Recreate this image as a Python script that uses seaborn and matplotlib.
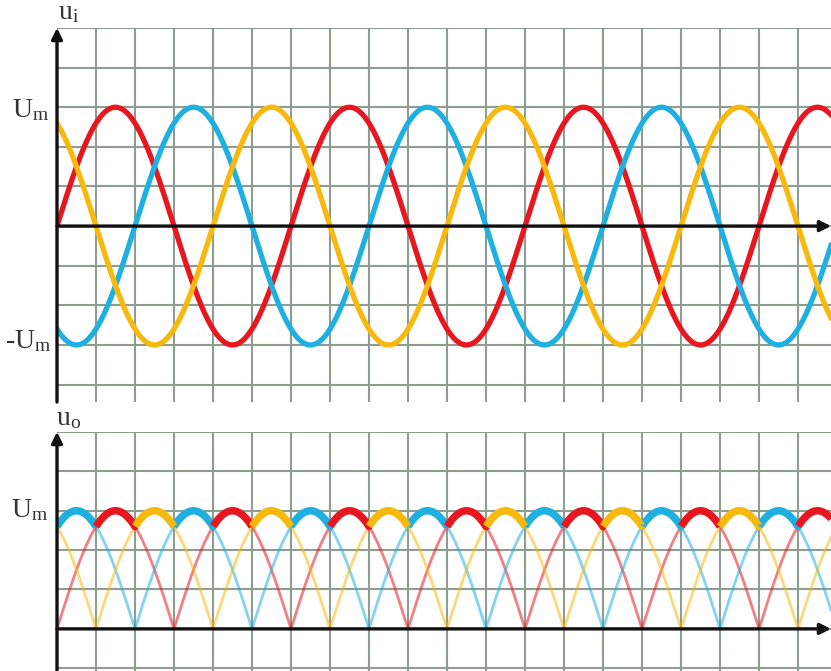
import numpy as np
import pandas as pd
import matplotlib
matplotlib.use("Agg")
import matplotlib.pyplot as plt
import seaborn as sns

# Three-phase supply: phase names, phase lag (degrees) and colours
phases = ["a", "b", "c"]
phase_lag_deg = [0, 120, 240]
phase_colors = ["#e8161f", "#1fb0e2", "#f8b80c"]

# Wave parameters in grid units
amplitude = 3.0      # U_m
period = 6.0         # one cycle spans six grid squares

# Axis labels
top_y_label = r"$\mathrm{u_i}$"
bottom_y_label = r"$\mathrm{u_o}$"
um_label = r"$\mathrm{U_m}$"
neg_um_label = r"$\mathrm{\text{-}U_m}$"

sns.set_theme(style="white")
plt.rcParams["font.family"] = ["Liberation Serif", "DejaVu Serif"]
plt.rcParams["mathtext.fontset"] = "custom"
plt.rcParams["mathtext.rm"] = "Liberation Serif"
plt.rcParams["mathtext.it"] = "Liberation Serif:italic"

W, H = 831, 671
fig = plt.figure(figsize=(W / 100, H / 100), dpi=100)


def box(x0, y0, x1, y1):
    return [x0 / W, 1 - y1 / H, (x1 - x0) / W, (y1 - y0) / H]


x_max = (W - 57) / 39.0
ax_top = fig.add_axes(box(57, 28, 831, 402))
ax_bot = fig.add_axes(box(57, 432, 831, 671))
ax_top.set_xlim(0, x_max)
ax_top.set_ylim(-4.44, 5.0)
ax_bot.set_xlim(0, x_max)
ax_bot.set_ylim(-1.07, 5.0)

grid_color = "#8d9d90"
for ax in (ax_top, ax_bot):
    ax.set_xticks(np.arange(0, 20))
    lo, hi = ax.get_ylim()
    ax.set_yticks(np.arange(np.ceil(lo), np.floor(hi) + 1))
    ax.grid(True, color=grid_color, lw=1.5)
    ax.set_axisbelow(True)
    ax.tick_params(length=0, labelleft=False, labelbottom=False)
    for s in ax.spines.values():
        s.set_visible(False)

# Sampled phase voltages
t = np.round(np.arange(0, x_max + 0.005, 0.005), 4)
rows = []
for name, lag in zip(phases, phase_lag_deg):
    v = amplitude * np.sin(2 * np.pi * t / period - np.deg2rad(lag))
    rows.append(pd.DataFrame({"t": t, "v": v, "abs_v": np.abs(v), "phase": name}))
waves = pd.concat(rows, ignore_index=True)
palette = dict(zip(phases, phase_colors))

# Input voltages
sns.lineplot(data=waves, x="t", y="v", hue="phase", palette=palette,
             lw=3.8, legend=False, ax=ax_top, estimator=None)

# Rectified magnitudes of each phase
sns.lineplot(data=waves, x="t", y="abs_v", hue="phase", palette=palette,
             lw=2.0, alpha=0.55, legend=False, ax=ax_bot, estimator=None)

# Output envelope: the phase with the largest magnitude at each instant
wide = waves.pivot(index="t", columns="phase", values="abs_v")[phases]
leader = wide.values.argmax(axis=1)
env_v = wide.values.max(axis=1)
seg_rows = []
seg = 0
start = 0
for i in range(1, len(t) + 1):
    if i == len(t) or leader[i] != leader[start]:
        stop = min(i + 1, len(t))
        seg_rows.append(pd.DataFrame({"t": t[start:stop], "v": env_v[start:stop],
                                      "phase": phases[leader[start]], "seg": seg}))
        seg += 1
        start = i
envelope = pd.concat(seg_rows, ignore_index=True)
sns.lineplot(data=envelope, x="t", y="v", hue="phase", units="seg",
             palette=palette, lw=5.4, legend=False, ax=ax_bot, estimator=None)
for line in ax_bot.get_lines()[-len(seg_rows):]:
    line.set_solid_capstyle("butt")

for ax in (ax_top, ax_bot):
    ax.set_xlabel("")
    ax.set_ylabel("")

# Axes with arrowheads
arrow = dict(arrowstyle="-|>", lw=2.4, color="#111111", mutation_scale=16,
             shrinkA=0, shrinkB=0)
for ax in (ax_top, ax_bot):
    lo, hi = ax.get_ylim()
    ax.annotate("", xy=(x_max, 0), xytext=(0, 0), arrowprops=arrow,
                annotation_clip=False, zorder=10)
    ax.annotate("", xy=(0, hi), xytext=(0, lo), arrowprops=arrow,
                annotation_clip=False, zorder=10)

# Labels
label_color = "#333333"


def label(x, y, s, ha="left"):
    fig.text(x / W, 1 - y / H, s, ha=ha, va="baseline", fontsize=20,
             color=label_color)


label(58, 19, top_y_label)
label(56, 425, bottom_y_label)
label(49, 117, um_label, ha="right")
label(51, 348, neg_um_label, ha="right")
label(48, 517, um_label, ha="right")

fig.savefig("out.png", dpi=100)
